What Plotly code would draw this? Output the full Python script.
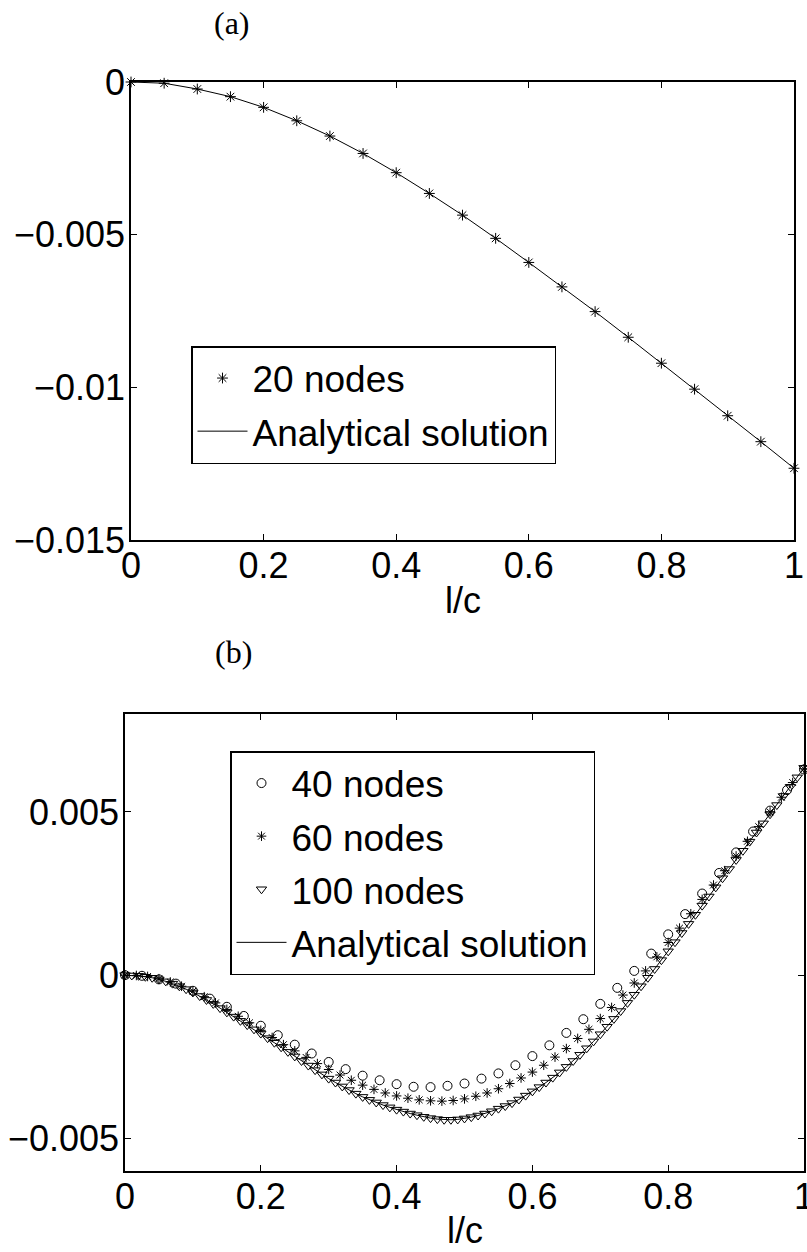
import plotly.graph_objects as go

# ---------------- data: panel (a) ----------------
x_20 = [0, 0.05, 0.1, 0.15, 0.2, 0.25, 0.3, 0.35, 0.4, 0.45, 0.5,
        0.55, 0.6, 0.65, 0.7, 0.75, 0.8, 0.85, 0.9, 0.95, 1.0]
y_20 = [0, -0.00004, -0.00023, -0.00048, -0.00083, -0.00127, -0.00177,
        -0.00234, -0.00297, -0.00365, -0.00436, -0.00512, -0.00591,
        -0.00671, -0.00752, -0.00836, -0.00921, -0.01006, -0.01093,
        -0.01178, -0.01265]
x_exact_a = x_20
y_exact_a = [0, -0.00004, -0.00023, -0.00048, -0.00083, -0.00127, -0.00177,
             -0.00234, -0.00297, -0.00365, -0.00436, -0.00512, -0.00591,
             -0.00671, -0.00752, -0.00836, -0.00921, -0.01006, -0.01093,
             -0.01178, -0.01265]

# ---------------- data: panel (b) ----------------
x_40 = [0, 0.025, 0.05, 0.075, 0.1, 0.125, 0.15, 0.175, 0.2, 0.225, 0.25,
        0.275, 0.3, 0.325, 0.35, 0.375, 0.4, 0.425, 0.45, 0.475, 0.5,
        0.525, 0.55, 0.575, 0.6, 0.625, 0.65, 0.675, 0.7, 0.725, 0.75,
        0.775, 0.8, 0.825, 0.85, 0.875, 0.9, 0.925, 0.95, 0.975, 1.0]
y_40 = [0, -0.00002, -0.00013, -0.00026, -0.00048, -0.00072, -0.00097,
        -0.00125, -0.00155, -0.00184, -0.00213, -0.00240, -0.00266,
        -0.00288, -0.00308, -0.00322, -0.00334, -0.00342, -0.00343,
        -0.00339, -0.00332, -0.00317, -0.00301, -0.00276, -0.00248,
        -0.00215, -0.00177, -0.00135, -0.00088, -0.00039, 0.00013,
        0.00066, 0.00125, 0.00187, 0.00250, 0.00313, 0.00376, 0.00440,
        0.00504, 0.00567, 0.00630]

x_60 = [0, 0.0167, 0.0333, 0.05, 0.0667, 0.0833, 0.1, 0.1167, 0.1333, 0.15,
        0.1667, 0.1833, 0.2, 0.2167, 0.2333, 0.25, 0.2667, 0.2833, 0.3,
        0.3167, 0.3333, 0.35, 0.3667, 0.3833, 0.4, 0.4167, 0.4333, 0.45,
        0.4667, 0.4833, 0.5, 0.5167, 0.5333, 0.55, 0.5667, 0.5833, 0.6,
        0.6167, 0.6333, 0.65, 0.6667, 0.6833, 0.7, 0.7167, 0.7333, 0.75,
        0.7667, 0.7833, 0.8, 0.8167, 0.8333, 0.85, 0.8667, 0.8833, 0.9,
        0.9167, 0.9333, 0.95, 0.9667, 0.9833, 1.0]
y_60 = [0, -0.00001, -0.00004, -0.00011, -0.00021, -0.00034, -0.00049,
        -0.00066, -0.00085, -0.00105, -0.00126, -0.00146, -0.00169,
        -0.00191, -0.00213, -0.00232, -0.00252, -0.00271, -0.00289,
        -0.00306, -0.00322, -0.00337, -0.00350, -0.00361, -0.00370,
        -0.00377, -0.00382, -0.00385, -0.00386, -0.00384, -0.00379,
        -0.00371, -0.00361, -0.00348, -0.00332, -0.00315, -0.00297,
        -0.00276, -0.00251, -0.00225, -0.00194, -0.00166, -0.00133,
        -0.00099, -0.00061, -0.00024, 0.00013, 0.00056, 0.00100, 0.00144,
        0.00188, 0.00232, 0.00276, 0.00320, 0.00365, 0.00410, 0.00455,
        0.00500, 0.00545, 0.00590, 0.00632]

x_100 = [0, 0.01, 0.02, 0.03, 0.04, 0.05, 0.06, 0.07, 0.08, 0.09,
         0.1, 0.11, 0.12, 0.13, 0.14, 0.15, 0.16, 0.17, 0.18, 0.19,
         0.2, 0.21, 0.22, 0.23, 0.24, 0.25, 0.26, 0.27, 0.28, 0.29,
         0.3, 0.31, 0.32, 0.33, 0.34, 0.35, 0.36, 0.37, 0.38, 0.39,
         0.4, 0.41, 0.42, 0.43, 0.44, 0.45, 0.46, 0.47, 0.48, 0.49,
         0.5, 0.51, 0.52, 0.53, 0.54, 0.55, 0.56, 0.57, 0.58, 0.59,
         0.6, 0.61, 0.62, 0.63, 0.64, 0.65, 0.66, 0.67, 0.68, 0.69,
         0.7, 0.71, 0.72, 0.73, 0.74, 0.75, 0.76, 0.77, 0.78, 0.79,
         0.8, 0.81, 0.82, 0.83, 0.84, 0.85, 0.86, 0.87, 0.88, 0.89,
         0.9, 0.91, 0.92, 0.93, 0.94, 0.95, 0.96, 0.97, 0.98, 0.99, 1.0]
y_100 = [0, -0.00001, -0.00002, -0.00005, -0.00008, -0.00013, -0.00019,
         -0.00026, -0.00034, -0.00043, -0.00053, -0.00064, -0.00076,
         -0.00088, -0.00101, -0.00114, -0.00127, -0.00140, -0.00153,
         -0.00166, -0.00179, -0.00193, -0.00207, -0.00221, -0.00235,
         -0.00249, -0.00263, -0.00277, -0.00291, -0.00304, -0.00317,
         -0.00329, -0.00341, -0.00352, -0.00363, -0.00373, -0.00382,
         -0.00390, -0.00398, -0.00405, -0.00412, -0.00418, -0.00424,
         -0.00429, -0.00434, -0.00438, -0.00441, -0.00443, -0.00443,
         -0.00442, -0.00439, -0.00435, -0.00430, -0.00424, -0.00417,
         -0.00409, -0.00401, -0.00392, -0.00381, -0.00369, -0.00356,
         -0.00343, -0.00329, -0.00314, -0.00298, -0.00281, -0.00263,
         -0.00244, -0.00224, -0.00203, -0.00181, -0.00158, -0.00134,
         -0.00110, -0.00085, -0.00060, -0.00034, -0.00008, 0.00019,
         0.00046, 0.00073, 0.00101, 0.00129, 0.00157, 0.00185, 0.00213,
         0.00241, 0.00269, 0.00297, 0.00325, 0.00353, 0.00381, 0.00409,
         0.00437, 0.00465, 0.00493, 0.00521, 0.00549, 0.00577, 0.00606,
         0.00635]
x_exact_b = x_100
y_exact_b = [0, -0.00001, -0.00002, -0.00005, -0.00008, -0.00013, -0.00019,
             -0.00026, -0.00034, -0.00043, -0.00053, -0.00064, -0.00076,
             -0.00088, -0.00101, -0.00114, -0.00127, -0.00140, -0.00153,
             -0.00166, -0.00179, -0.00193, -0.00207, -0.00221, -0.00235,
             -0.00249, -0.00263, -0.00277, -0.00291, -0.00304, -0.00317,
             -0.00329, -0.00341, -0.00352, -0.00363, -0.00373, -0.00382,
             -0.00390, -0.00398, -0.00405, -0.00412, -0.00418, -0.00424,
             -0.00429, -0.00434, -0.00438, -0.00441, -0.00443, -0.00443,
             -0.00442, -0.00439, -0.00435, -0.00430, -0.00424, -0.00417,
             -0.00409, -0.00401, -0.00392, -0.00381, -0.00369, -0.00356,
             -0.00343, -0.00329, -0.00314, -0.00298, -0.00281, -0.00263,
             -0.00244, -0.00224, -0.00203, -0.00181, -0.00158, -0.00134,
             -0.00110, -0.00085, -0.00060, -0.00034, -0.00008, 0.00019,
             0.00046, 0.00073, 0.00101, 0.00129, 0.00157, 0.00185, 0.00213,
             0.00241, 0.00269, 0.00297, 0.00325, 0.00353, 0.00381, 0.00409,
             0.00437, 0.00465, 0.00493, 0.00521, 0.00549, 0.00577, 0.00606,
             0.00635]

x_ticks = [0, 0.2, 0.4, 0.6, 0.8, 1]
x_ticktext = ["0", "0.2", "0.4", "0.6", "0.8", "1"]
ya_ticks = [0, -0.005, -0.01, -0.015]
ya_ticktext = ["0", "\u22120.005", "\u22120.01", "\u22120.015"]
yb_ticks = [-0.005, 0, 0.005]
yb_ticktext = ["\u22120.005", "0", "0.005"]

# ---------------- figure ----------------
W, H = 807, 1252
SANS = "Liberation Sans, Arial, Helvetica, sans-serif"
SERIF = "Liberation Serif, Times New Roman, serif"
BLACK = "#000000"

fig = go.Figure()

fig.add_trace(go.Scatter(
    x=x_20, y=y_20, mode="markers", name="20 nodes",
    marker=dict(symbol="asterisk-open", size=9, color=BLACK,
                line=dict(color=BLACK, width=1)),
    xaxis="x", yaxis="y", legend="legend", legendgroup="a1",
    cliponaxis=False))
fig.add_trace(go.Scatter(
    x=x_exact_a, y=y_exact_a, mode="lines", name="Analytical solution",
    line=dict(color=BLACK, width=1),
    xaxis="x", yaxis="y", legend="legend", legendgroup="a2",
    cliponaxis=False))

fig.add_trace(go.Scatter(
    x=x_40, y=y_40, mode="markers", name="40 nodes",
    marker=dict(symbol="circle-open", size=9, color=BLACK,
                line=dict(color=BLACK, width=1)),
    xaxis="x2", yaxis="y2", legend="legend2", legendgroup="b1",
    cliponaxis=False))
fig.add_trace(go.Scatter(
    x=x_60, y=y_60, mode="markers", name="60 nodes",
    marker=dict(symbol="asterisk-open", size=8, color=BLACK,
                line=dict(color=BLACK, width=1)),
    xaxis="x2", yaxis="y2", legend="legend2", legendgroup="b2",
    cliponaxis=False))
fig.add_trace(go.Scatter(
    x=x_100, y=y_100, mode="markers", name="100 nodes",
    marker=dict(symbol="triangle-down-open", size=9, color=BLACK,
                line=dict(color=BLACK, width=1)),
    xaxis="x2", yaxis="y2", legend="legend2", legendgroup="b3",
    cliponaxis=False))
fig.add_trace(go.Scatter(
    x=x_exact_b, y=y_exact_b, mode="lines", name="Analytical solution",
    line=dict(color=BLACK, width=1),
    xaxis="x2", yaxis="y2", legend="legend2", legendgroup="b4",
    cliponaxis=False))

axis_common = dict(
    showline=True, linecolor=BLACK, linewidth=1.5, mirror="ticks",
    ticks="inside", ticklen=6, tickwidth=1, tickcolor=BLACK,
    showgrid=False, zeroline=False, automargin=False,
    tickfont=dict(family=SANS, size=36, color=BLACK),
)
xaxis_extra = dict(ticklabelstandoff=-7, ticklabeloverflow="allow")
yaxis_extra = dict(ticklabelstandoff=-3, ticklabeloverflow="allow")

legend_common = dict(
    xanchor="left", yanchor="top",
    bgcolor="white", bordercolor=BLACK, borderwidth=1.5,
    font=dict(family=SANS, size=37, color=BLACK),
    traceorder="grouped", tracegroupgap=2, itemwidth=50,
)

fig.update_layout(
    template="none",
    width=W, height=H,
    margin=dict(l=0, r=0, t=0, b=0, pad=0),
    paper_bgcolor="white", plot_bgcolor="white",
    showlegend=True,
    xaxis=dict(domain=[131 / W, 794 / W], anchor="y", range=[0, 1],
               tickvals=x_ticks, ticktext=x_ticktext,
               **axis_common, **xaxis_extra),
    yaxis=dict(domain=[1 - 540 / H, 1 - 82 / H], anchor="x",
               range=[-0.015, 0],
               tickvals=ya_ticks, ticktext=ya_ticktext,
               **axis_common, **yaxis_extra),
    xaxis2=dict(domain=[125 / W, 804 / W], anchor="y2", range=[0, 1],
                tickvals=x_ticks, ticktext=x_ticktext,
                **axis_common, **xaxis_extra),
    yaxis2=dict(domain=[1 - 1171 / H, 1 - 714 / H], anchor="x2",
                range=[-0.006, 0.008],
                tickvals=yb_ticks, ticktext=yb_ticktext,
                **axis_common, **yaxis_extra),
    legend=dict(x=191 / W, y=1 - 346 / H, **legend_common),
    legend2=dict(x=230 / W, y=1 - 751 / H, **legend_common),
    annotations=[
        dict(text="(a)", x=232 / W, y=1 - 23 / H, xref="paper", yref="paper",
             showarrow=False, xanchor="center", yanchor="middle",
             font=dict(family=SERIF, size=32, color=BLACK)),
        dict(text="(b)", x=233 / W, y=1 - 652 / H, xref="paper", yref="paper",
             showarrow=False, xanchor="center", yanchor="middle",
             font=dict(family=SERIF, size=32, color=BLACK)),
        dict(text="l/c", x=463 / W, y=1 - 600 / H, xref="paper", yref="paper",
             showarrow=False, xanchor="center", yanchor="middle",
             font=dict(family=SANS, size=36, color=BLACK)),
        dict(text="l/c", x=465 / W, y=1 - 1230 / H, xref="paper", yref="paper",
             showarrow=False, xanchor="center", yanchor="middle",
             font=dict(family=SANS, size=36, color=BLACK)),
    ],
)

fig.write_html("out.html")
